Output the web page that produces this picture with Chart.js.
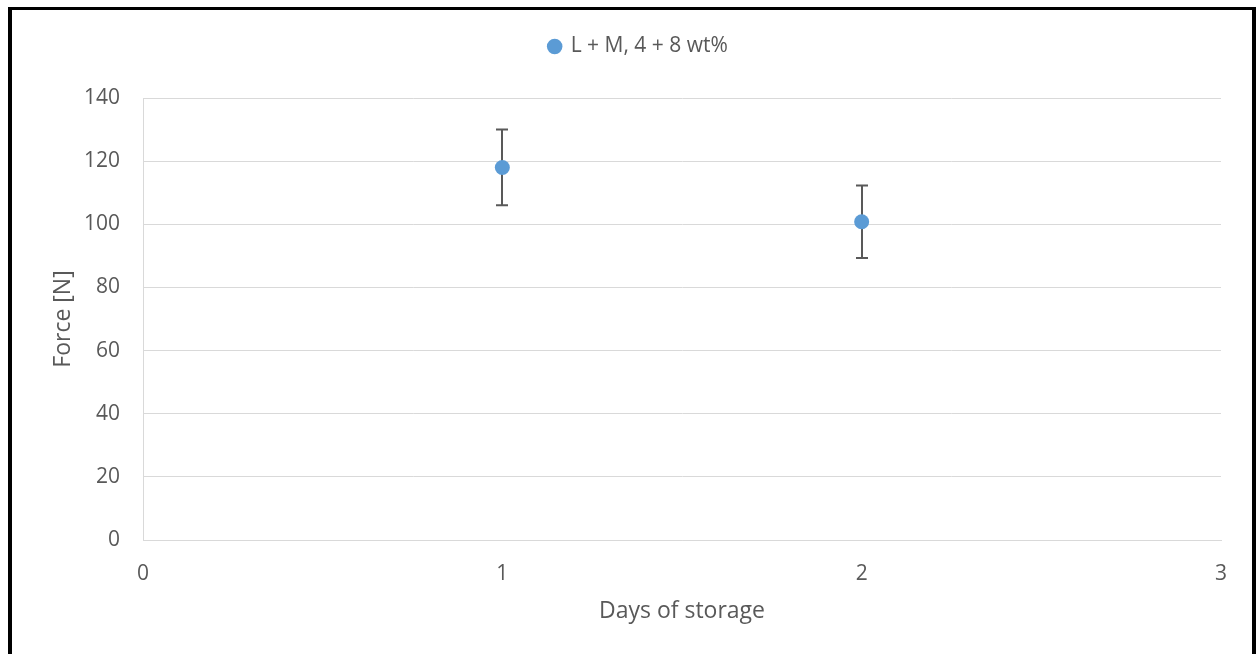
<!DOCTYPE html>
<html>
<head>
<meta charset="utf-8">
<script src="https://cdn.jsdelivr.net/npm/chart.js@4"></script>
<style>
  html, body { margin: 0; padding: 0; background: #fff; overflow: hidden; }
  #frame {
    position: absolute; left: 8px; top: 7px;
    width: 1240px; height: 644px;
    border-left: 4px solid #000; border-right: 4px solid #000; border-top: 3px solid #000;
  }
</style>
</head>
<body>
<div id="frame"><canvas id="myChart" width="1240" height="644"></canvas></div>
<script>
const days = [1, 2];
const force = [118, 100.8];
const forceErr = [12, 11.5];
const xTicks = [0, 1, 2, 3];
const yTicks = [0, 20, 40, 60, 80, 100, 120, 140];
const seriesLabel = 'L + M, 4 + 8 wt%';

const FONT = "'Open Sans', sans-serif";
const TEXT = '#595959';
const GRID = '#d9d9d9';

// draws the vertical error bars under the points
const errorBars = {
  id: 'errorBars',
  beforeDatasetsDraw(chart) {
    const { ctx, scales: { x, y } } = chart;
    ctx.save();
    ctx.strokeStyle = '#595959';
    ctx.lineWidth = 2;
    days.forEach((d, i) => {
      const px = Math.round(x.getPixelForValue(d));
      const top = y.getPixelForValue(force[i] + forceErr[i]);
      const bot = y.getPixelForValue(force[i] - forceErr[i]);
      ctx.beginPath();
      ctx.moveTo(px, top);
      ctx.lineTo(px, bot);
      ctx.moveTo(px - 6, top);
      ctx.lineTo(px + 6, top);
      ctx.moveTo(px - 6, bot);
      ctx.lineTo(px + 6, bot);
      ctx.stroke();
    });
    ctx.restore();
  },
};

// extra room between legend and plot, legend nudged right
const legendTweak = {
  id: 'legendTweak',
  beforeInit(chart) {
    const legend = chart.legend;
    const fit = legend.fit;
    legend.fit = function () {
      fit.call(this);
      this.height += 31;
    };
    const draw = legend.draw;
    legend.draw = function () {
      const ctx = this.ctx;
      ctx.save();
      ctx.translate(22, 0);
      draw.apply(this, arguments);
      ctx.restore();
    };
  },
};

new Chart(document.getElementById('myChart').getContext('2d'), {
  type: 'scatter',
  data: {
    datasets: [{
      label: seriesLabel,
      data: days.map((d, i) => ({ x: d, y: force[i] })),
      backgroundColor: '#5b9bd5',
      borderColor: '#5b9bd5',
      pointRadius: 7.5,
      pointHoverRadius: 7.5,
      borderWidth: 0,
    }],
  },
  options: {
    responsive: false,
    animation: false,
    events: [],
    layout: { padding: { top: 6, right: 31, left: 0, bottom: 0 } },
    plugins: {
      tooltip: { enabled: false },
      legend: {
        position: 'top',
        labels: {
          usePointStyle: true,
          pointStyle: 'circle',
          boxWidth: 11,
          boxHeight: 11,
          padding: 20,
          color: TEXT,
          font: { family: FONT, size: 21 },
        },
      },
    },
    scales: {
      x: {
        type: 'linear',
        min: 0,
        max: 3,
        afterBuildTicks: (s) => { s.ticks = xTicks.map((v) => ({ value: v })); },
        afterFit: (s) => { s.height = 114; },
        grid: { display: false },
        border: { display: true, color: GRID, width: 1 },
        ticks: { color: TEXT, padding: 13, font: { family: FONT, size: 21 } },
        title: {
          display: true,
          text: 'Days of storage',
          color: TEXT,
          font: { family: FONT, size: 23 },
          padding: { top: 4, bottom: 29 },
        },
      },
      y: {
        min: 0,
        max: 140,
        afterBuildTicks: (s) => { s.ticks = yTicks.map((v) => ({ value: v })); },
        afterFit: (s) => { s.width = 131; },
        grid: { color: GRID, drawTicks: false },
        border: { display: true, color: GRID, width: 1 },
        ticks: { color: TEXT, padding: 23, font: { family: FONT, size: 21 } },
        title: {
          display: true,
          text: 'Force [N]',
          color: TEXT,
          font: { family: FONT, size: 23 },
          padding: { top: 38, bottom: 0 },
        },
      },
    },
  },
  plugins: [errorBars, legendTweak],
});
</script>
</body>
</html>
